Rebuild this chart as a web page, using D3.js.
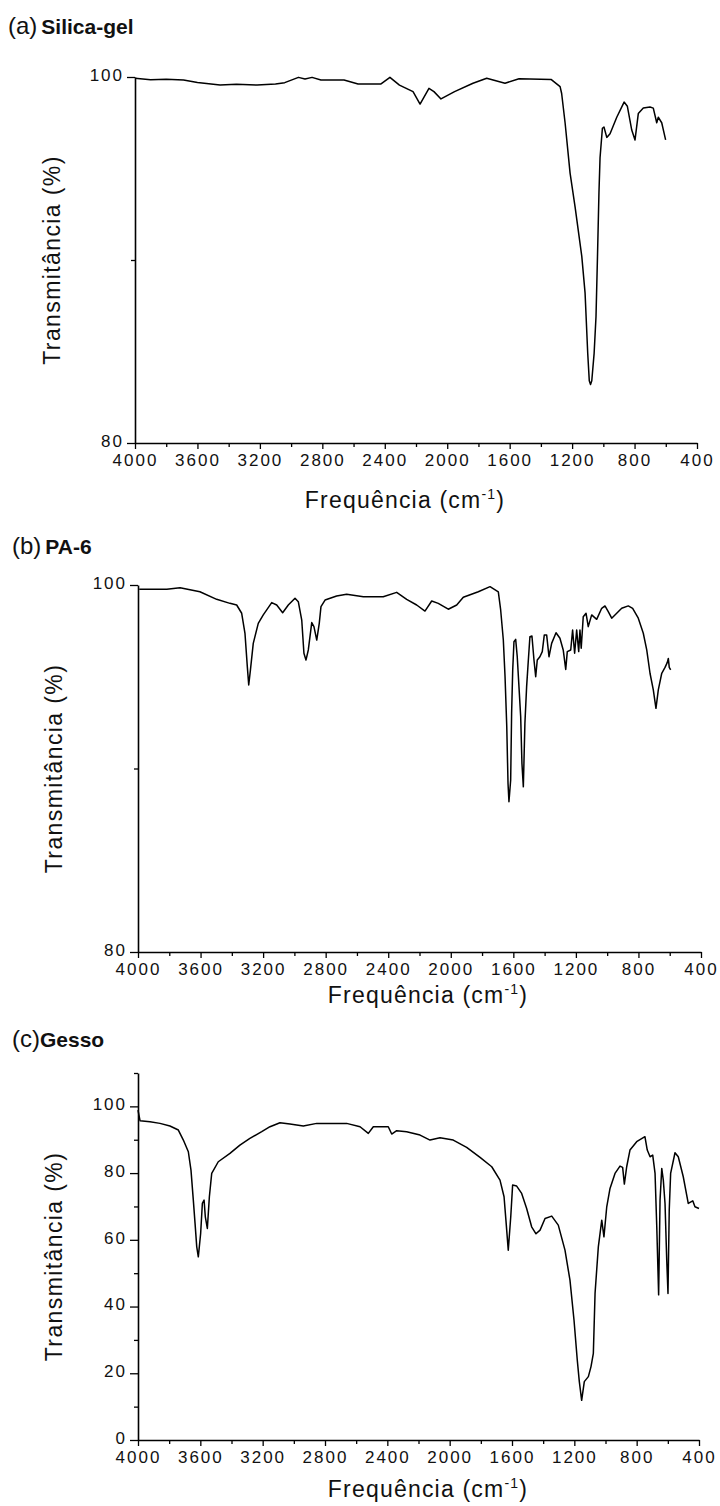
<!DOCTYPE html>
<html>
<head>
<meta charset="utf-8">
<script src="https://cdn.jsdelivr.net/npm/d3@7"></script>
<style>
  html, body { margin: 0; padding: 0; background: #fff; }
  svg { display: block; font-family: "Liberation Sans", Arial, sans-serif; }
</style>
</head>
<body>
<svg id="chart" width="720" height="1506"></svg>
<script>
// ---------- DATA ----------
const xTickValues = [4000, 3600, 3200, 2800, 2400, 2000, 1600, 1200, 800, 400];
const xMinorValues = [3800, 3400, 3000, 2600, 2200, 1800, 1400, 1000, 600];
const yTicksAB = [80, 100];
const yMinorAB = [90];
const yTicksC = [0, 20, 40, 60, 80, 100];
const yMinorC = [10, 30, 50, 70, 90, 110];

const panelTitles = [["(a)", "Silica-gel"], ["(b)", "PA-6"], ["(c)", "Gesso"]];

// (wavenumber cm-1, transmittance %)
const silicaGel = [
  [4000,99.93],[3900,99.85],[3800,99.88],[3689,99.84],[3600,99.7],[3455,99.56],[3350,99.6],[3218,99.56],[3100,99.62],[3041,99.69],[2953,99.98],[2911,99.89],[2866,99.98],
  [2809,99.84],[2661,99.84],[2571,99.62],[2424,99.62],[2367,99.98],[2306,99.56],[2219,99.2],[2174,98.52],
  [2117,99.38],[2085,99.2],[2040,98.8],[1953,99.2],[1835,99.66],[1747,99.93],[1630,99.66],[1540,99.9],
  [1335,99.87],[1277,99.47],[1267,99.1],[1245,97.5],[1213,94.75],[1181,92.9],[1138,90.2],[1117,88.2],
  [1100,84.9],[1090,83.4],[1082,83.2],[1074,83.4],[1059,84.9],[1047,86.9],[1038,90],[1028,93.7],
  [1021,95.6],[1006,97.2],[996,97.27],[978,96.7],[957,96.9],[914,97.8],[867,98.63],[846,98.4],
  [818,97.1],[797,96.56],[776,98],[744,98.3],[701,98.36],[680,98.3],[658,97.5],[648,97.8],[626,97.5],[601,96.56]
];

const pa6 = [
  [3992,99.77],[3816,99.77],[3731,99.85],[3604,99.63],[3497,99.22],[3412,99.0],[3369,98.91],[3337,98.46],
  [3316,97.37],[3301,95.55],[3292,94.55],[3281,95.37],[3263,96.82],[3231,97.91],[3199,98.37],[3145,99.04],
  [3113,98.91],[3075,98.49],[3039,98.91],[2996,99.28],[2975,99.09],[2953,98.09],[2939,96.28],[2926,95.91],
  [2911,96.46],[2889,97.95],[2875,97.73],[2857,97.0],[2841,97.91],[2830,98.82],[2804,99.18],[2730,99.4],
  [2666,99.49],[2559,99.36],[2432,99.36],[2346,99.6],[2282,99.22],[2218,98.91],[2165,98.58],[2122,99.13],
  [2080,99.0],[2016,98.68],[1962,98.91],[1920,99.33],[1824,99.63],[1749,99.91],[1696,99.63],[1681,98.64],
  [1664,97.0],[1653,95.0],[1642,92.28],[1634,89.19],[1628,88.19],[1617,89.37],[1611,93.0],[1604,95.37],
  [1596,96.91],[1585,97.04],[1575,96.09],[1564,94.46],[1553,92.82],[1545,90.28],[1536,89.0],[1526,92.46],
  [1515,94.46],[1504,95.91],[1494,97.18],[1481,97.22],[1468,95.91],[1457,95.0],[1447,95.91],[1430,96.09],
  [1415,96.37],[1402,97.28],[1387,97.28],[1372,96.09],[1355,96.82],[1327,97.4],[1302,97.1],[1281,96.46],
  [1265,95.4],[1255,96.37],[1233,96.46],[1221,97.55],[1208,96.28],[1195,97.55],[1182,96.37],[1174,97.55],
  [1166,96.55],[1153,98.27],[1135,98.46],[1121,97.73],[1099,98.37],[1067,98.13],[1035,98.73],[1014,98.86],
  [993,98.55],[971,98.19],[939,98.46],[907,98.73],[865,98.86],[837,98.73],[801,98.19],[769,97.37],
  [747,96.46],[726,95.19],[705,94.28],[688,93.28],[673,94.28],[651,95.19],[630,95.51],[616,95.77],
  [609,96.0],[603,95.51],[594,95.37]
];

const gesso = [
  [4000,98.9],[3987,95.7],[3923,95.4],[3859,94.9],[3795,94.1],[3741,92.9],[3709,89.9],[3677,86.4],
  [3660,80.9],[3645,71.9],[3634,65.0],[3623,57.9],[3613,54.9],[3598,61.9],[3587,70.9],[3576,71.9],
  [3568,66.9],[3555,63.4],[3542,72.9],[3527,79.9],[3485,83.4],[3410,85.9],[3346,88.4],[3282,90.4],
  [3206,92.4],[3153,93.9],[3089,95.1],[3025,94.7],[2939,94.1],[2853,94.9],[2661,94.9],[2575,93.9],
  [2522,91.9],[2490,93.9],[2394,93.9],[2372,91.7],[2340,92.7],[2276,92.4],[2190,91.4],[2126,89.9],
  [2062,90.6],[1977,89.9],[1891,87.7],[1805,84.7],[1730,81.9],[1677,77.9],[1651,72.9],[1639,65.9],
  [1624,56.9],[1608,66.9],[1596,76.4],[1570,76.1],[1538,73.9],[1506,69.4],[1474,63.9],[1446,61.8],
  [1420,62.9],[1388,66.4],[1345,67.1],[1303,64.4],[1260,56.9],[1228,47.9],[1202,35.9],[1181,23.9],
  [1168,17.5],[1153,11.9],[1136,17.5],[1110,19.0],[1093,22.0],[1078,26.0],[1067,44.0],[1046,57.9],
  [1024,65.9],[1010,60.9],[992,69.9],[971,75.4],[939,79.9],[907,82.1],[890,81.7],[879,76.7],
  [864,81.9],[843,86.9],[800,89.4],[747,90.9],[732,86.9],[714,84.9],[697,85.4],[682,79.9],
  [671,63.9],[659,43.5],[650,71.9],[639,81.4],[629,77.9],[618,70.9],[607,53.9],[599,43.9],
  [591,68.9],[582,79.9],[554,86.1],[533,84.9],[501,78.9],[469,70.9],[440,71.7],[426,69.9],[400,69.4]
];

// ---------- LAYOUT ----------
const panels = [
  { data: silicaGel, title: panelTitles[0], left: 135, right: 697, top: 77, bottom: 443, yDom: [80, 100], yMajor: yTicksAB, yMinor: yMinorAB,
    titleX: 8, titleY: 34, ylabX: 60, freqX: 405, freqY: 508 },
  { data: pa6, title: panelTitles[1], left: 138, right: 701, top: 585, bottom: 952, yDom: [80, 100], yMajor: yTicksAB, yMinor: yMinorAB,
    titleX: 12, titleY: 554, ylabX: 62, freqX: 428, freqY: 1003 },
  { data: gesso, title: panelTitles[2], left: 138, right: 699, top: 1073, bottom: 1440, yDom: [0, 110], yMajor: yTicksC, yMinor: yMinorC,
    titleX: 12, titleY: 1047, ylabX: 62, freqX: 428, freqY: 1497 }
];

const svg = d3.select("#chart");

panels.forEach((p, i) => {
  const x = d3.scaleLinear().domain([4000, 400]).range([p.left, p.right]);
  const y = d3.scaleLinear().domain(p.yDom).range([p.bottom, p.top]);
  const g = svg.append("g");

  // x axis minor
  g.append("g").attr("transform", `translate(0,${p.bottom})`)
    .call(d3.axisBottom(x).tickValues(xMinorValues).tickSize(4).tickFormat(""))
    .call(s => s.select(".domain").remove());
  // x axis major
  const xa = g.append("g").attr("transform", `translate(0,${p.bottom})`)
    .call(d3.axisBottom(x).tickValues(xTickValues).tickSize(6).tickSizeOuter(0).tickPadding(5).tickFormat(d3.format("d")));
  xa.selectAll("text").attr("font-size", 17).attr("letter-spacing", "2px").attr("fill", "#111")
    .attr("font-family", "Liberation Sans, Arial, sans-serif");

  // y axis minor
  g.append("g").attr("transform", `translate(${p.left},0)`)
    .call(d3.axisLeft(y).tickValues(p.yMinor).tickSize(4).tickFormat(""))
    .call(s => s.select(".domain").remove());
  // y axis major
  const ya = g.append("g").attr("transform", `translate(${p.left},0)`)
    .call(d3.axisLeft(y).tickValues(p.yMajor).tickSize(8).tickSizeOuter(0).tickPadding(3).tickFormat(d3.format("d")));
  ya.selectAll("text").attr("font-size", 17).attr("letter-spacing", "2px").attr("fill", "#111")
    .attr("dy", "0.2em")
    .attr("font-family", "Liberation Sans, Arial, sans-serif");

  g.selectAll(".domain").attr("stroke", "#000").attr("stroke-width", 1.6);
  g.selectAll(".tick line").attr("stroke", "#000").attr("stroke-width", 1.3);

  // spectrum
  g.append("path").datum(p.data)
    .attr("fill", "none").attr("stroke", "#000").attr("stroke-width", 1.5).attr("stroke-linejoin", "round")
    .attr("d", d3.line().x(d => x(d[0])).y(d => y(d[1])));

  // y label
  g.append("text")
    .attr("transform", `translate(${p.ylabX},${(p.top + p.bottom) / 2}) rotate(-90)`)
    .attr("text-anchor", "middle").attr("font-size", 23).attr("letter-spacing", "1.4px").attr("fill", "#111")
    .text("Transmitância (%)");

  // x label
  const fx = g.append("text").attr("x", p.freqX).attr("y", p.freqY).attr("text-anchor", "middle")
    .attr("font-size", 23).attr("letter-spacing", "1.2px").attr("fill", "#111");
  fx.append("tspan").text("Frequência (cm");
  fx.append("tspan").attr("dy", -9).attr("font-size", 14).text("-1");
  fx.append("tspan").attr("dy", 9).text(")");

  // panel title
  const t = g.append("text").attr("x", p.titleX).attr("y", p.titleY).attr("fill", "#111");
  t.append("tspan").attr("font-size", 24).text(p.title[0]);
  t.append("tspan").attr("font-size", 21).attr("font-weight", "bold")
    .attr("dx", i < 2 ? 4 : 0).text(p.title[1]);
});
</script>
</body>
</html>
